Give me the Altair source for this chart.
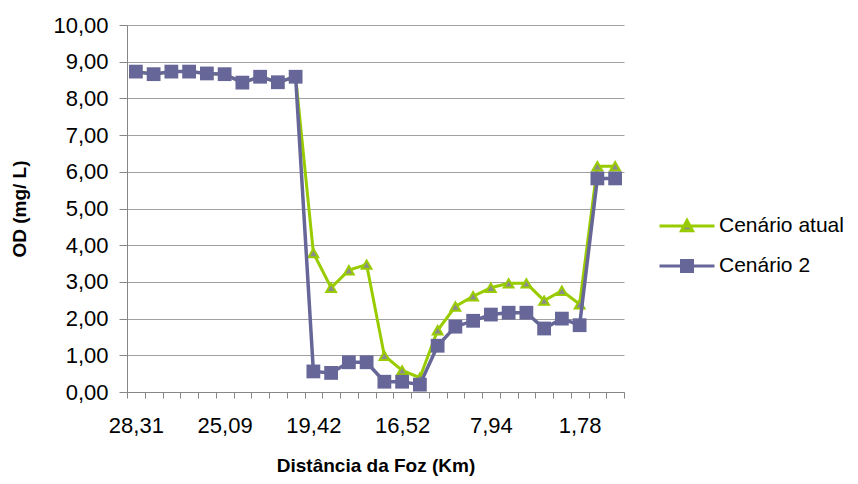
import altair as alt
import pandas as pd

# ---- data ----
n_points = 28
x_labels = {0: "28,31", 5: "25,09", 10: "19,42", 15: "16,52", 20: "7,94", 25: "1,78"}
series_names = ["Cenário atual", "Cenário 2"]
cenario_atual = [8.73, 8.66, 8.73, 8.73, 8.68, 8.66, 8.43, 8.59, 8.44, 8.59,
                 3.79, 2.84, 3.32, 3.47, 0.99, 0.59, 0.39, 1.68, 2.33, 2.61,
                 2.84, 2.96, 2.96, 2.49, 2.76, 2.39, 6.15, 6.15]
cenario_2 = [8.73, 8.66, 8.73, 8.73, 8.68, 8.66, 8.43, 8.59, 8.44, 8.59,
             0.56, 0.52, 0.81, 0.81, 0.28, 0.28, 0.20, 1.26, 1.78, 1.94,
             2.11, 2.16, 2.16, 1.73, 2.00, 1.82, 5.82, 5.82]

GREEN = "#99cc00"
PURPLE = "#666699"
GRAY = "#8c8c8c"
FONT = "Liberation Sans"

rows = []
for i in range(n_points):
    rows.append({"idx": i, "serie": series_names[0], "od": cenario_atual[i]})
    rows.append({"idx": i, "serie": series_names[1], "od": cenario_2[i]})
df = pd.DataFrame(rows)

label_expr = " : ".join(
    [f"datum.value == {k} ? '{v}'" for k, v in x_labels.items()]) + " : ''"

x_enc = alt.X(
    "idx:O",
    bandPosition=0.5,
    scale=alt.Scale(type="band", paddingInner=0, paddingOuter=0),
    axis=alt.Axis(
        title="Distância da Foz (Km)",
        labelExpr=label_expr,
        labelAngle=0,
        tickBand="extent",
        tickSize=6,
        labelPadding=17,
        titlePadding=20,
        grid=False,
    ),
)
y_enc = alt.Y(
    "od:Q",
    scale=alt.Scale(domain=[0, 10], nice=False),
    axis=alt.Axis(
        title="OD (mg/ L)",
        values=list(range(0, 11)),
        labelExpr="replace(format(datum.value, '.2f'), '.', ',')",
        tickSize=8,
        labelPadding=11,
        titlePadding=23,
        grid=True,
    ),
)

# legend symbols: a short line with the marker in the middle
tri_path = "M-1,0L1,0M-0.2,0.17L0,-0.2L0.2,0.17Z"
sq_path = "M-1,0L1,0M-0.2,-0.2L0.2,-0.2L0.2,0.2L-0.2,0.2Z"

legend = alt.Legend(
    title=None,
    orient="none",
    legendX=531,
    legendY=172,
    padding=0,
    symbolSize=3025,
    symbolStrokeWidth=3,
    symbolOpacity=1,
    rowPadding=-6,
    labelOffset=3,
    labelFontSize=21,
    labelFont=FONT,
    labelColor="black",
)

base = alt.Chart(df)

layers = []
# series 1 (green line, grey triangles with green border)
layers.append(
    base.transform_filter(alt.datum.serie == series_names[0])
    .mark_line(strokeWidth=3, color=GREEN)
    .encode(x=x_enc, y=y_enc)
)
layers.append(
    base.transform_filter(alt.datum.serie == series_names[0])
    .mark_point(shape="triangle-up", size=95, filled=True, fill=GRAY,
                stroke=GREEN, strokeWidth=2, opacity=1)
    .encode(x=x_enc, y=y_enc)
)
# series 2 (purple line, purple squares)
layers.append(
    base.transform_filter(alt.datum.serie == series_names[1])
    .mark_line(strokeWidth=3.5, color=PURPLE)
    .encode(x=x_enc, y=y_enc)
)
layers.append(
    base.transform_filter(alt.datum.serie == series_names[1])
    .mark_point(shape="square", size=190, filled=True, fill=PURPLE,
                strokeWidth=0, opacity=1)
    .encode(x=x_enc, y=y_enc)
)
# legend-only layer: no marks survive the filter, the legend comes from the scale domains
layers.append(
    base.transform_filter("false")
    .mark_point(filled=True, strokeWidth=3)
    .encode(
        x=x_enc,
        y=y_enc,
        shape=alt.Shape("serie:N", scale=alt.Scale(domain=series_names, range=[tri_path, sq_path]), legend=legend),
        fill=alt.Fill("serie:N", scale=alt.Scale(domain=series_names, range=[GRAY, PURPLE]), legend=legend),
        stroke=alt.Stroke("serie:N", scale=alt.Scale(domain=series_names, range=[GREEN, PURPLE]), legend=legend),
    )
)

chart = (
    alt.layer(*layers)
    .properties(
        width=497,
        height=367,
        autosize=alt.AutoSizeParams(type="none"),
        padding={"left": 119, "top": 17, "right": 226, "bottom": 84},
        background="white",
    )
    .configure_view(stroke=None)
    .configure_axis(
        labelFont=FONT,
        labelFontSize=22,
        labelColor="black",
        titleFont=FONT,
        titleFontSize=19,
        titleFontWeight="bold",
        titleColor="black",
        domainColor="#868686",
        tickColor="#868686",
        gridColor="#a0a0a0",
        domainWidth=1,
        tickWidth=1,
        gridWidth=1,
    )
)

chart.save("out.html", embed_options={"renderer": "svg", "actions": False})
